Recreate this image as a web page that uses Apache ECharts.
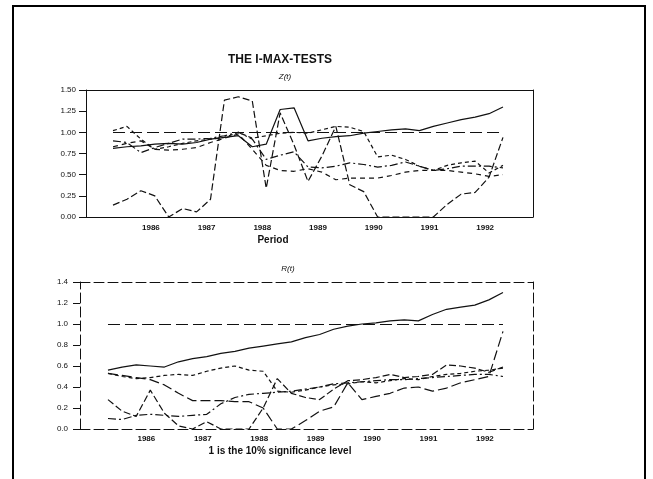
<!DOCTYPE html>
<html><head><meta charset="utf-8">
<script src="https://cdn.jsdelivr.net/npm/echarts@6/dist/echarts.min.js"></script>
<style>html,body{margin:0;padding:0;background:#fff}#c{width:653px;height:479px}</style>
</head><body><div id="c"></div>
<script>
// ---- data ----
const quarters = ['1985Q2','1985Q3','1985Q4','1986Q1','1986Q2','1986Q3','1986Q4','1987Q1','1987Q2','1987Q3','1987Q4',
  '1988Q1','1988Q2','1988Q3','1988Q4','1989Q1','1989Q2','1989Q3','1989Q4','1990Q1','1990Q2','1990Q3','1990Q4',
  '1991Q1','1991Q2','1991Q3','1991Q4','1992Q1','1992Q2'];
const yearLabels = ['1986','1987','1988','1989','1990','1991','1992'];
const sigLevel = 1;

// Z(t)
const zSolid = [0.81,0.83,0.84,0.86,0.87,0.86,0.88,0.92,0.94,0.96,0.83,0.86,1.27,1.29,0.90,0.93,0.95,0.96,0.99,1.01,1.03,1.04,1.02,1.07,1.11,1.15,1.18,1.22,1.30];
const zB = [0.14,0.21,0.31,0.25,0.00,0.10,0.06,0.21,1.38,1.42,1.37,0.34,1.23,0.85,0.42,0.72,1.07,0.38,0.30,0.00,0.00,0.00,0.00,0.00,0.15,0.27,0.29,0.47,0.94];
const zC = [1.02,1.07,0.92,0.80,0.83,0.87,0.90,0.92,0.94,1.00,0.93,0.96,0.99,1.00,0.99,1.03,1.07,1.06,1.01,0.71,0.73,0.68,0.60,0.55,0.61,0.64,0.66,0.52,0.61];
const zD = [0.90,0.88,0.76,0.82,0.87,0.92,0.92,0.93,0.96,1.00,0.92,0.68,0.73,0.77,0.59,0.58,0.60,0.64,0.62,0.59,0.61,0.65,0.60,0.55,0.57,0.60,0.60,0.60,0.58];
const zE = [0.83,0.87,0.90,0.80,0.79,0.80,0.82,0.88,0.93,0.98,0.80,0.61,0.55,0.54,0.57,0.53,0.44,0.46,0.46,0.46,0.49,0.53,0.55,0.55,0.55,0.53,0.51,0.48,0.50];

// R(t)
const rSolid = [0.56,0.59,0.61,0.60,0.59,0.64,0.67,0.69,0.72,0.74,0.77,0.79,0.81,0.83,0.87,0.90,0.95,0.98,1.00,1.01,1.03,1.04,1.03,1.09,1.14,1.16,1.18,1.23,1.30];
const rS1 = [0.28,0.17,0.12,0.37,0.15,0.03,0.00,0.07,0.00,0.00,0.00,0.20,0.48,0.34,0.30,0.28,0.38,0.46,0.47,0.49,0.52,0.49,0.50,0.52,0.61,0.60,0.58,0.54,0.59];
const rS2 = [0.10,0.09,0.13,0.14,0.13,0.12,0.13,0.14,0.24,0.30,0.33,0.34,0.35,0.36,0.38,0.40,0.43,0.44,0.45,0.46,0.47,0.47,0.48,0.49,0.50,0.51,0.52,0.52,0.50];
const rS3 = [0.53,0.51,0.49,0.47,0.42,0.34,0.27,0.27,0.27,0.26,0.26,0.20,0.00,0.00,0.08,0.17,0.21,0.44,0.28,0.31,0.34,0.39,0.40,0.36,0.39,0.44,0.47,0.50,0.93];
const rS4 = [0.53,0.50,0.48,0.49,0.51,0.52,0.51,0.55,0.58,0.60,0.56,0.55,0.36,0.35,0.37,0.40,0.42,0.43,0.45,0.44,0.46,0.48,0.47,0.50,0.52,0.53,0.55,0.56,0.58];

// ---- helpers ----
function qx(q){ return +q.slice(0,4) + (+q.slice(5)-1)/4; }
function pts(vals){ return vals.map((v,i)=>[qx(quarters[i]), v]); }
const labelPos = yearLabels.map(y => +y - 0.07);
const INK = '#111';
const FONT = 'Liberation Sans, Arial, sans-serif';

function ser(vals, dash, gi, extra){
  return Object.assign({
    type:'line', data:pts(vals), symbol:'none', xAxisIndex:gi*2, yAxisIndex:gi*2,
    lineStyle:{color:INK, width:1.2, type:dash}, silent:true, z:3
  }, extra||{});
}
function sigLine(){
  return {symbol:['none','none'], silent:true, label:{show:false},
    lineStyle:{type:[12,5], color:INK, width:1.2},
    data:[[{coord:[qx(quarters[0]), sigLevel]},{coord:[qx(quarters[quarters.length-1]), sigLevel]}]]};
}

const xr = [{min:1984.765,max:1992.789},{min:1984.754,max:1992.782}];
const yr = [{min:0,max:1.5,interval:0.25,dec:2,margin:10},{min:0,max:1.4,interval:0.2,dec:1,margin:12}];
const axType = ['solid',[10,4]];

const xAxis=[], yAxis=[];
[0,1].forEach(g=>{
  const ls = {color:INK, width:1, type:axType[g]};
  xAxis.push({type:'value', gridIndex:g, min:xr[g].min, max:xr[g].max, position:'bottom',
    axisLine:{show:true, onZero:false, lineStyle:ls}, axisTick:{show:false}, splitLine:{show:false},
    axisLabel:{customValues:labelPos, formatter:v=>String(Math.round(v)), color:INK, fontSize:8, fontFamily:FONT, fontWeight:'bold', margin:g?6:7}});
  xAxis.push({type:'value', gridIndex:g, min:xr[g].min, max:xr[g].max, position:'top',
    axisLine:{show:true, onZero:false, lineStyle:ls}, axisTick:{show:false}, splitLine:{show:false}, axisLabel:{show:false}});
  yAxis.push({type:'value', gridIndex:g, min:yr[g].min, max:yr[g].max, interval:yr[g].interval, position:'left',
    axisLine:{show:true, onZero:false, lineStyle:ls}, axisTick:{show:true, length:7, lineStyle:{color:INK}}, splitLine:{show:false},
    axisLabel:{formatter:v=>v.toFixed(yr[g].dec), color:INK, fontSize:8, fontFamily:FONT, margin:yr[g].margin}});
  yAxis.push({type:'value', gridIndex:g, min:yr[g].min, max:yr[g].max, position:'right',
    axisLine:{show:true, onZero:false, lineStyle:ls}, axisTick:{show:false}, splitLine:{show:false}, axisLabel:{show:false}});
});

const txt = (s, x, y, size, weight, style) => ({type:'text', x, y, silent:true,
  style:{text:s, fill:INK, font:(style||'normal')+' '+(weight||'normal')+' '+size+'px '+FONT, align:'center', verticalAlign:'middle'}});

const option = {
  animation:false,
  backgroundColor:'#fff',
  grid:[{left:86, right:120, top:90, height:127}, {left:80, right:120, top:282, height:147}],
  xAxis, yAxis,
  series:[
    ser(zSolid,'solid',0,{markLine:sigLine()}),
    ser(zB,[7,3],0), ser(zC,[4,3],0), ser(zD,[8,3,2,3],0), ser(zE,[5,4],0),
    ser(rSolid,'solid',1,{markLine:sigLine()}),
    ser(rS1,[7,3],1), ser(rS2,[8,3,2,3],1), ser(rS3,[10,4],1), ser(rS4,[4,3],1)
  ],
  graphic:[
    {type:'rect', silent:true, shape:{x:13,y:6,width:632,height:500}, style:{fill:'none', stroke:'#000', lineWidth:2}},
    txt('THE I-MAX-TESTS', 280, 60, 12, 'bold'),
    txt('Z(t)', 285, 77, 8, 'normal', 'italic'),
    txt('Period', 273, 240, 10, 'bold'),
    txt('R(t)', 288, 269, 8, 'normal', 'italic'),
    txt('1 is the 10% significance level', 280, 451, 10, 'bold')
  ]
};
echarts.init(document.getElementById('c'), null, {renderer:'canvas'}).setOption(option);
</script>
</body></html>
